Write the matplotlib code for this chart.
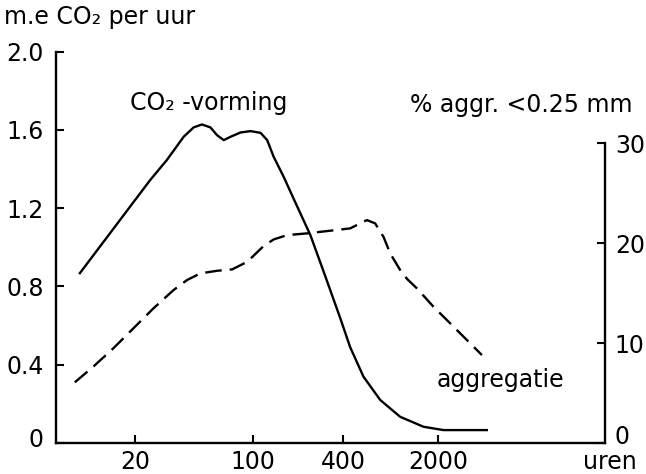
import numpy as np
import matplotlib
matplotlib.use("Agg")
import matplotlib.pyplot as plt
import matplotlib.transforms as mtransforms

# CO2 production (m.e per hour) against incubation time (hours)
co2_hours = [9.39, 24.6, 30.9, 38.9, 44.6, 50.0, 56.1, 61.5, 67.4, 73.9, 84.8,
             97.3, 113, 125, 138, 161, 188, 242, 304, 382, 450, 564, 749,
             1050, 1559, 2188, 4560]
co2_rate = [0.868, 1.344, 1.446, 1.565, 1.613, 1.628, 1.613, 1.573, 1.548,
            1.565, 1.587, 1.594, 1.585, 1.548, 1.463, 1.360, 1.246, 1.063,
            0.853, 0.639, 0.490, 0.339, 0.220, 0.134, 0.083, 0.066, 0.066]

# aggregation, % aggregates < 0.25 mm
agg_hours = [8.76, 11.27, 14.84, 19.54, 25.72, 33.87, 40.72, 48.92, 61.52,
             75.6, 92.97, 118.3, 138.3, 169.6, 230.1, 311.9, 450.3, 533.4,
             597.5, 687.9, 748.6, 791.7, 887, 1050.5, 1183, 1394, 1847, 2452,
             3253, 4194]
agg_pct = [6.07, 7.63, 9.47, 11.47, 13.47, 15.3, 16.3, 16.97, 17.23, 17.37,
           18.13, 19.7, 20.37, 20.8, 20.97, 21.2, 21.47, 21.97, 22.3, 21.97,
           21.13, 20.63, 18.97, 17.3, 16.4, 15.47, 13.63, 11.97, 10.3, 8.8]

x_ticks = [20, 100, 400, 2000]
x_ticklabels = ["20", "100", "400", "2000"]
left_ticks = [0, 0.4, 0.8, 1.2, 1.6, 2.0]
left_ticklabels = ["0", "0.4", "0.8", "1.2", "1.6", "2.0"]
right_ticks = [0, 10, 20, 30]
right_ticklabels = ["0", "10", "20", "30"]

# the time axis is hand-spaced: log-like between the labelled hours
tick_frac = np.array([0.144, 0.358, 0.523, 0.696])
tick_log = np.log10(x_ticks)
slope_lo = (tick_frac[1] - tick_frac[0]) / (tick_log[1] - tick_log[0])
slope_hi = (tick_frac[-1] - tick_frac[-2]) / (tick_log[-1] - tick_log[-2])


def forward(x):
    lx = np.log10(np.maximum(np.asarray(x, dtype=float), 1e-9))
    mid = np.interp(lx, tick_log, tick_frac)
    lo = tick_frac[0] + (lx - tick_log[0]) * slope_lo
    hi = tick_frac[-1] + (lx - tick_log[-1]) * slope_hi
    return np.where(lx < tick_log[0], lo, np.where(lx > tick_log[-1], hi, mid))


def inverse(p):
    p = np.asarray(p, dtype=float)
    mid = np.interp(p, tick_frac, tick_log)
    lo = tick_log[0] + (p - tick_frac[0]) / slope_lo
    hi = tick_log[-1] + (p - tick_frac[-1]) / slope_hi
    lx = np.where(p < tick_frac[0], lo, np.where(p > tick_frac[-1], hi, mid))
    return 10 ** lx


plt.rcParams["font.family"] = "DejaVu Sans"
plt.rcParams["font.size"] = 17

fig = plt.figure(figsize=(6.46, 4.74), dpi=100)
ax = fig.add_axes([0.0867, 0.0654, 0.85, 0.8256])

ax.set_xscale("function", functions=(forward, inverse))
ax.set_xlim(float(inverse(0.0)), float(inverse(1.0)))
ax.set_ylim(0, 2.0)

ax.plot(co2_hours, co2_rate, color="black", lw=1.7,
        solid_joinstyle="round")

ax2 = ax.twinx()
ax2.set_ylim(0, 39.15)
ax2.plot(agg_hours, agg_pct, color="black", lw=1.7,
         linestyle=(0, (7.0, 3.4)), dash_capstyle="butt")

ax.set_xticks(x_ticks)
ax.set_xticklabels(x_ticklabels)
ax.minorticks_off()
ax.set_yticks(left_ticks)
ax.set_yticklabels(left_ticklabels)
ax2.set_yticks(right_ticks)
ax2.set_yticklabels(right_ticklabels)

for a in (ax, ax2):
    a.spines["top"].set_visible(False)
    for s in a.spines.values():
        s.set_linewidth(1.7)
    a.tick_params(direction="in", length=6, width=1.5, labelsize=17)
ax.spines["right"].set_visible(False)
ax2.spines["left"].set_visible(False)
ax2.spines["bottom"].set_visible(False)
ax2.spines["right"].set_bounds(0, 30)
ax.tick_params(axis="x", pad=5)
ax.tick_params(axis="y", pad=9)
ax2.tick_params(axis="y", pad=7)

# lift the two "0" labels a little off the time axis
lift_left = mtransforms.ScaledTranslation(0, 4 / 72, fig.dpi_scale_trans)
lift_right = mtransforms.ScaledTranslation(0, 6 / 72, fig.dpi_scale_trans)
lab = ax.get_yticklabels()[0]
lab.set_transform(lab.get_transform() + lift_left)
lab = ax2.get_yticklabels()[0]
lab.set_transform(lab.get_transform() + lift_right)

fig.text(0.006, 0.964, "m.e CO₂ per uur", ha="left", va="center", fontsize=17)
fig.text(0.201, 0.783, "CO₂ -vorming", ha="left", va="center", fontsize=17)
fig.text(0.635, 0.778, "% aggr. <0.25 mm", ha="left", va="center", fontsize=17)
fig.text(0.676, 0.198, "aggregatie", ha="left", va="center", fontsize=17)
fig.text(0.902, 0.010, "uren", ha="left", va="baseline", fontsize=17)

fig.savefig("out.png", dpi=100)
